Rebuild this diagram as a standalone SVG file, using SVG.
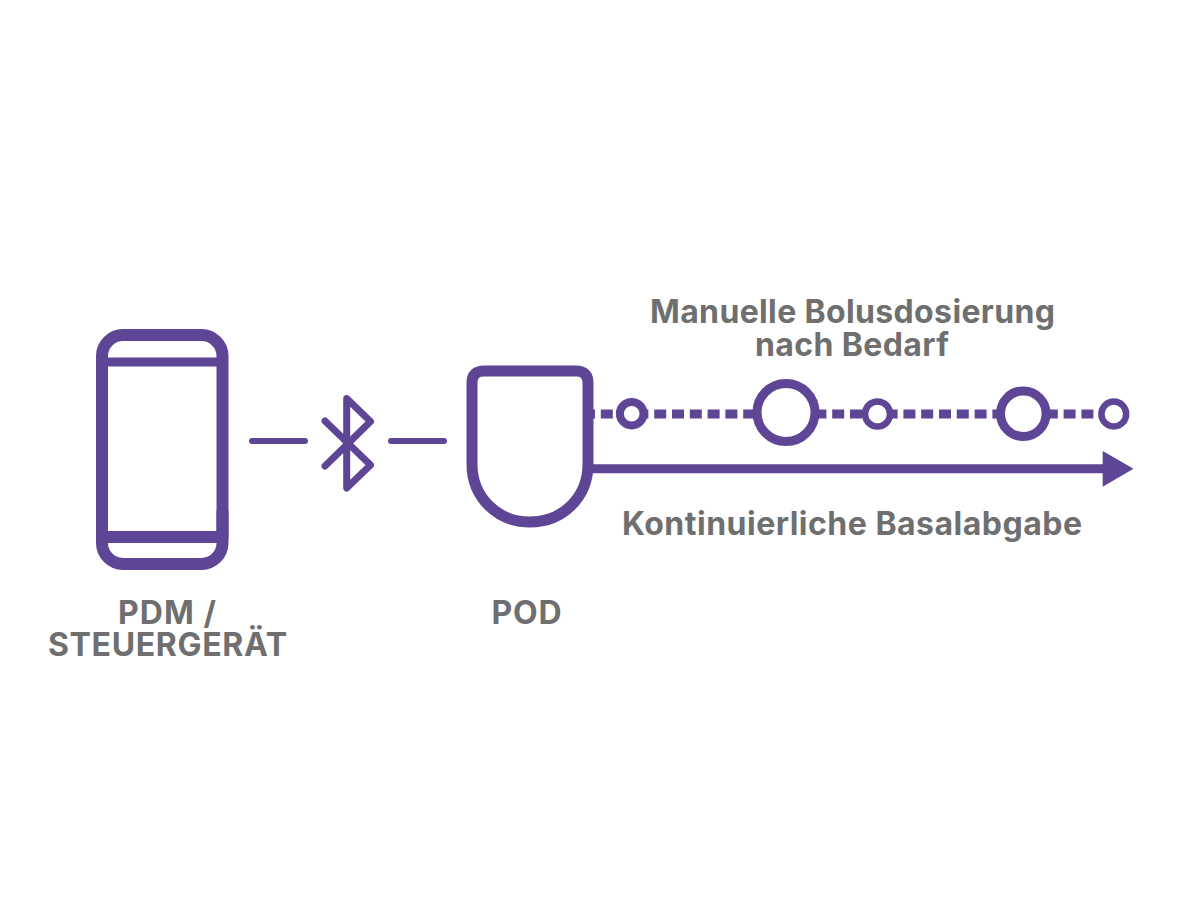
<svg xmlns="http://www.w3.org/2000/svg" width="1200" height="900" viewBox="0 0 1200 900">
<style>
.s{fill:none;stroke:#5f4596}
.l{fill:none;stroke:#5f4596;stroke-linecap:round;stroke-linejoin:round}
.t{font-family:"Inter","Liberation Sans",sans-serif;font-weight:700;font-size:32px;fill:#6f6f70;text-anchor:middle}
.c{fill:#fff;stroke:#5f4596}
</style>
<rect width="1200" height="900" fill="#fff"/>
<g id="connectors">
<path d="M252 441H305M391 441H444" class="l" stroke-width="6"/>
<path d="M593 414H1110" class="s" stroke-width="9" stroke-dasharray="12 5.8" stroke-dashoffset="10"/>
<path d="M592 468.800H1104" class="s" stroke-width="9"/>
<path d="M1102.700 451L1133.500 468.800L1102.700 486.700Z" fill="#5f4596"/>
</g>
<g id="pdm">
<rect x="102" y="335" width="120.500" height="229" rx="21" class="s" stroke-width="12"/>
<path d="M102 362H222" class="s" stroke-width="9"/>
<path d="M102 537H222" class="s" stroke-width="12"/>
<path d="M222.500 512V537" class="l" stroke-width="12"/>
</g>
<g id="bluetooth">
<path d="M325 421L370.500 465L346.700 488V398.500L370.500 421.500L325 466" class="l" stroke-width="7"/>
</g>
<g id="pod">
<path d="M472 383Q472 371 484 371H576Q588 371 588 383V464C588 497 563 522 530 522C497 522 472 497 472 464Z" class="s" stroke-width="11"/>
</g>
<g id="boluses">
<circle cx="631.700" cy="413.700" r="11.800" class="c" stroke-width="8"/>
<circle cx="786" cy="412.500" r="29" class="c" stroke-width="9"/>
<circle cx="877.500" cy="414" r="12.500" class="c" stroke-width="6.500"/>
<circle cx="1023.300" cy="413.700" r="22.800" class="c" stroke-width="9"/>
<circle cx="1113.800" cy="414" r="12.400" class="c" stroke-width="6.500"/>
</g>
<g id="labels">
<text x="167" y="624" class="t" textLength="98" lengthAdjust="spacing">PDM /</text>
<text x="167.500" y="656" class="t" textLength="239" lengthAdjust="spacing">STEUERGERÄT</text>
<text x="526.500" y="624" class="t" textLength="70" lengthAdjust="spacing">POD</text>
<text x="852.500" y="323" class="t" textLength="405" lengthAdjust="spacing">Manuelle Bolusdosierung</text>
<text x="852" y="356" class="t" textLength="194" lengthAdjust="spacing">nach Bedarf</text>
<text x="852" y="535" class="t" textLength="460" lengthAdjust="spacing">Kontinuierliche Basalabgabe</text>
</g>
</svg>
